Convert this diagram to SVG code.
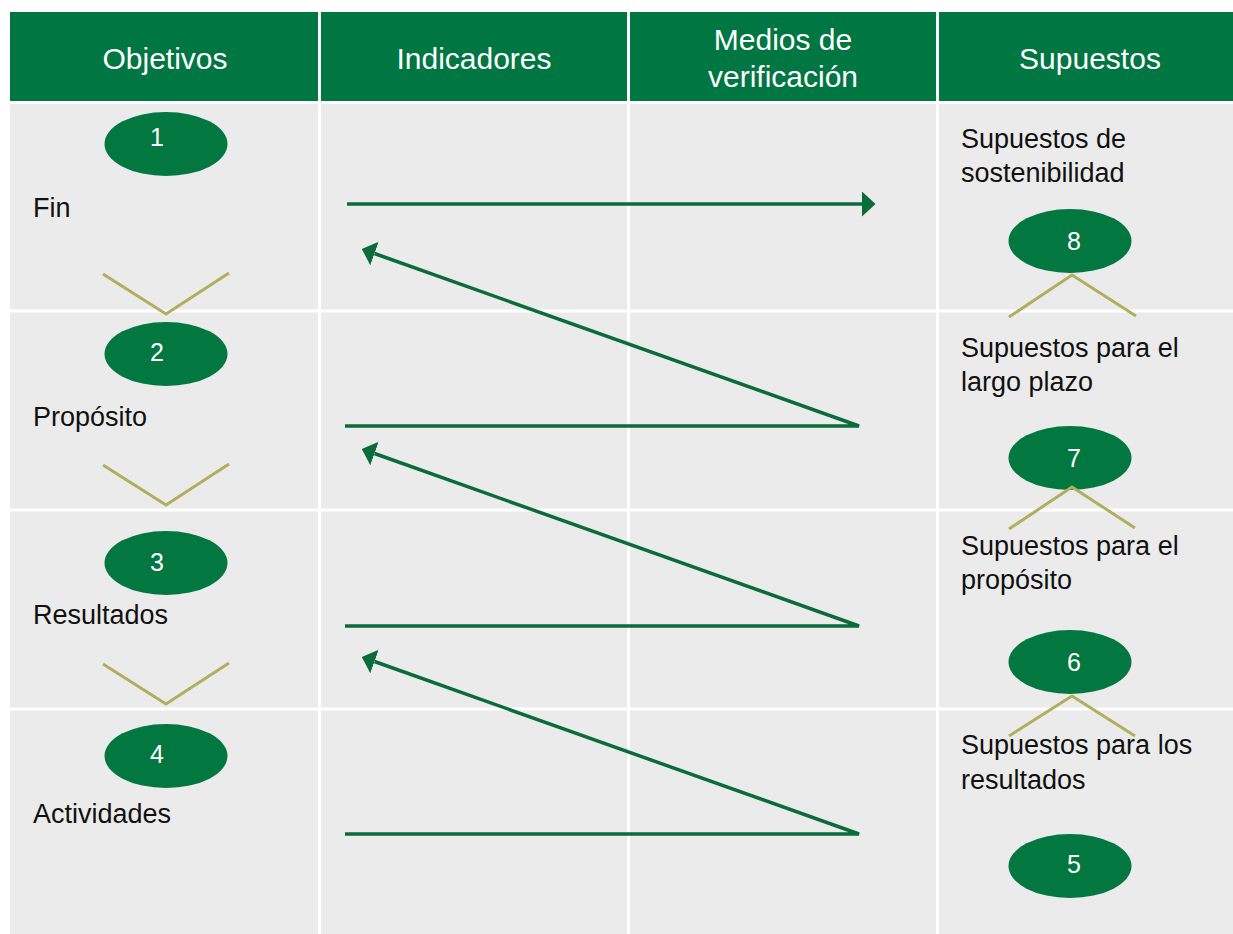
<svg xmlns="http://www.w3.org/2000/svg" width="1233" height="934" viewBox="0 0 1233 934">
<style>
.hdr{font-family:"Liberation Sans",Arial,sans-serif;font-size:30px;fill:#ffffff;text-anchor:middle}
.lbl{font-family:"Liberation Sans",Arial,sans-serif;font-size:27px;fill:#111111}
.num{font-family:"Liberation Sans",Arial,sans-serif;font-size:25px;fill:#ffffff;text-anchor:middle}
.oval{fill:#037740}
.chev{fill:none;stroke:#b1ae60;stroke-width:3}
.conn{fill:none;stroke:#0b6b3a;stroke-width:3.5}
.grid{stroke:#ffffff;stroke-width:3}
</style>
<defs>
<marker id="ah" markerUnits="userSpaceOnUse" markerWidth="14" markerHeight="26" refX="0" refY="12.5" orient="auto">
<path d="M0,0 L13.5,12.5 L0,25 z" fill="#0b6b3a"/>
</marker>
</defs>
<rect x="0" y="0" width="1233" height="934" fill="#ffffff"/>
<g id="table">
<rect x="10" y="12" width="1223" height="90" fill="#007642"/>
<rect x="10" y="103" width="1223" height="831" fill="#ebebeb"/>
<line class="grid" x1="10" y1="102.5" x2="1233" y2="102.5" stroke-width="2"/>
<line class="grid" x1="319.5" y1="12" x2="319.5" y2="934" stroke-width="2"/>
<line class="grid" x1="628.5" y1="12" x2="628.5" y2="934" stroke-width="2"/>
<line class="grid" x1="937.5" y1="12" x2="937.5" y2="934" stroke-width="2"/>
<line class="grid" x1="10" y1="311" x2="1233" y2="311"/>
<line class="grid" x1="10" y1="510" x2="1233" y2="510"/>
<line class="grid" x1="10" y1="709" x2="1233" y2="709"/>
<text class="hdr" x="165" y="69">Objetivos</text>
<text class="hdr" x="474" y="69">Indicadores</text>
<text class="hdr" x="783" y="50">Medios de</text>
<text class="hdr" x="783" y="87">verificación</text>
<text class="hdr" x="1090" y="69">Supuestos</text>
</g>
<g id="connectors">
<path class="conn" d="M347,204 H862" marker-end="url(#ah)"/>
<path class="conn" d="M345,426 H859 L374.5,253.5" marker-end="url(#ah)"/>
<path class="conn" d="M345,626 H859 L374.5,453.5" marker-end="url(#ah)"/>
<path class="conn" d="M345,834 H859 L374.5,661.5" marker-end="url(#ah)"/>
</g>
<g id="n1"><ellipse class="oval" cx="166" cy="144" rx="61.5" ry="32"/><text class="num" x="157" y="146">1</text><text class="lbl" x="33" y="217">Fin</text><path class="chev" d="M103,274 L166,314 L229,273"/></g>
<g id="n2"><ellipse class="oval" cx="166" cy="354" rx="61.5" ry="32"/><text class="num" x="157" y="361">2</text><text class="lbl" x="33" y="426">Propósito</text><path class="chev" d="M103,465 L166,505 L229,464"/></g>
<g id="n3"><ellipse class="oval" cx="166" cy="563" rx="61.5" ry="32"/><text class="num" x="157" y="571">3</text><text class="lbl" x="33" y="624">Resultados</text><path class="chev" d="M103,664 L166,704 L229,663"/></g>
<g id="n4"><ellipse class="oval" cx="166" cy="756" rx="61.5" ry="32"/><text class="num" x="157" y="763">4</text><text class="lbl" x="33" y="823">Actividades</text></g>
<g id="n8"><text class="lbl" x="961" y="148">Supuestos de</text><text class="lbl" x="961" y="182">sostenibilidad</text><ellipse class="oval" cx="1070" cy="241" rx="61.5" ry="32"/><text class="num" x="1074" y="250">8</text><path class="chev" d="M1009,317 L1072,275 L1136,316"/></g>
<g id="n7"><text class="lbl" x="961" y="357">Supuestos para el</text><text class="lbl" x="961" y="391">largo plazo</text><ellipse class="oval" cx="1070" cy="458" rx="61.5" ry="32"/><text class="num" x="1074" y="467">7</text><path class="chev" d="M1009,529 L1072,487 L1135,528"/></g>
<g id="n6"><text class="lbl" x="961" y="555">Supuestos para el</text><text class="lbl" x="961" y="589">propósito</text><ellipse class="oval" cx="1070" cy="662" rx="61.5" ry="32"/><text class="num" x="1074" y="671">6</text><path class="chev" d="M1009,736 L1072,696 L1135,736"/></g>
<g id="n5"><text class="lbl" x="961" y="754">Supuestos para los</text><text class="lbl" x="961" y="789">resultados</text><ellipse class="oval" cx="1070" cy="866" rx="61.5" ry="32"/><text class="num" x="1074" y="873">5</text></g>
</svg>
